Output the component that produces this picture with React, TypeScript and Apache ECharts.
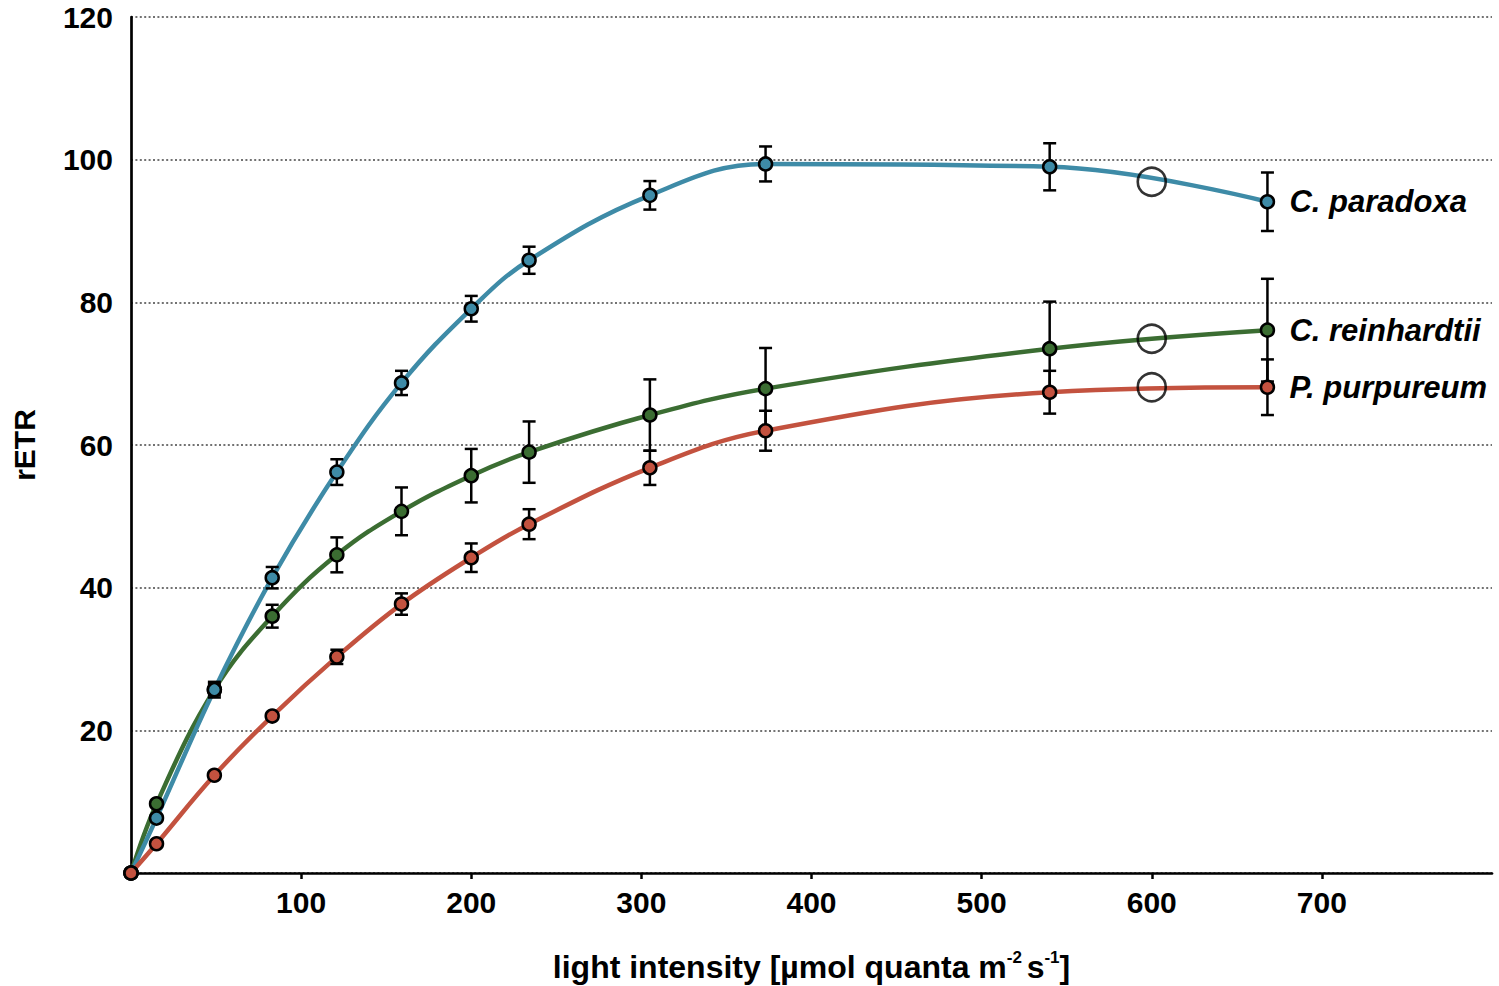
import React, { useEffect, useRef } from "react";
import * as echarts from "echarts";

// light intensity [µmol quanta m-2 s-1]
const lightIntensity = [0, 15, 49, 83, 121, 159, 200, 234, 305, 373, 540, 668];

const cParadoxa = [0, 7.7, 25.7, 41.4, 56.2, 68.7, 79.1, 85.9, 95.0, 99.4, 99.0, 94.1];
const cParadoxaErr = [0, 0.3, 1.1, 1.5, 1.8, 1.7, 1.8, 1.9, 2.0, 2.45, 3.3, 4.1];

const cReinhardtii = [0, 9.7, 25.7, 36.0, 44.6, 50.7, 55.7, 59.0, 64.2, 67.9, 73.5, 76.1];
const cReinhardtiiErr = [0, 0.3, 0.8, 1.6, 2.45, 3.35, 3.75, 4.3, 5.0, 5.7, 6.6, 7.2];

const pPurpureum = [0, 4.1, 13.7, 22.0, 30.3, 37.7, 44.2, 48.9, 56.8, 62.0, 67.4, 68.1];
const pPurpureumErr = [0, 0, 0, 0, 1.0, 1.5, 2.0, 2.1, 2.4, 2.8, 3.0, 3.9];

// open circles (reference points) at 600 µmol quanta m-2 s-1
const markerX = 600;
const markerValues = [96.9, 74.9, 68.1];

const xTicks = [100, 200, 300, 400, 500, 600, 700];

const seriesNames = ["C. paradoxa", "C. reinhardtii", "P. purpureum"];
const seriesColors = ["#3E8BA7", "#3B6D32", "#C3523F"];

const FONT = "'Liberation Sans', Arial, Helvetica, sans-serif";

export default function App() {
  const ref = useRef<HTMLDivElement>(null);

  useEffect(() => {
    if (!ref.current) return;
    const chart = echarts.init(ref.current, undefined, { renderer: "svg" });

    const values = [cParadoxa, cReinhardtii, pPurpureum];
    const errors = [cParadoxaErr, cReinhardtiiErr, pPurpureumErr];
    const order = [1, 0, 2]; // draw order: green, blue, red

    const lineSeries: any[] = [];
    const errSeries: any[] = [];
    const markSeries: any[] = [];

    order.forEach((i) => {
      const data = lightIntensity.map((x, k) => [x, values[i][k]]);
      lineSeries.push({
        type: "line",
        name: seriesNames[i],
        data,
        smooth: 0.4,
        showSymbol: false,
        symbol: "none",
        z: 2,
        lineStyle: { color: seriesColors[i], width: 4.5 },
        endLabel: {
          show: true,
          formatter: seriesNames[i],
          color: "#000",
          fontFamily: FONT,
          fontSize: 31,
          fontWeight: "bold",
          fontStyle: "italic",
          distance: 22,
        },
        silent: true,
      });
      errSeries.push({
        type: "custom",
        name: seriesNames[i] + " error",
        z: 3,
        data: lightIntensity
          .map((x, k) => [x, values[i][k], errors[i][k]])
          .filter((d) => d[2] > 0),
        renderItem: (params: any, api: any) => {
          const x = api.value(0);
          const y = api.value(1);
          const e = api.value(2);
          const top = api.coord([x, y + e]);
          const bot = api.coord([x, y - e]);
          const hw = 6.5;
          const style = { stroke: "#000", lineWidth: 2.5 };
          return {
            type: "group",
            children: [
              { type: "line", shape: { x1: top[0], y1: top[1], x2: bot[0], y2: bot[1] }, style },
              { type: "line", shape: { x1: top[0] - hw, y1: top[1], x2: top[0] + hw, y2: top[1] }, style },
              { type: "line", shape: { x1: bot[0] - hw, y1: bot[1], x2: bot[0] + hw, y2: bot[1] }, style },
            ],
          };
        },
        silent: true,
      });
      markSeries.push({
        type: "scatter",
        name: seriesNames[i] + " points",
        data,
        symbol: "circle",
        symbolSize: 13,
        z: 4,
        itemStyle: { color: seriesColors[i], borderColor: "#000", borderWidth: 2.5, opacity: 1 },
        silent: true,
      });
    });

    const circleSeries = {
      type: "scatter",
      name: "reference circles",
      data: markerValues.map((v) => [markerX, v]),
      symbol: "circle",
      symbolSize: 28,
      z: 5,
      itemStyle: { color: "rgba(0,0,0,0)", borderColor: "#000", borderWidth: 2.6 },
      silent: true,
    };

    chart.setOption({
      animation: false,
      textStyle: { fontFamily: FONT },
      grid: {
        left: 131,
        right: 7,
        top: 17,
        bottom: 113,
        containLabel: false,
        outerBoundsMode: "none",
      },
      xAxis: {
        type: "value",
        min: 0,
        max: 800,
        interval: 100,
        name: "light intensity [µmol quanta m{sup|-2 }s{sup|-1}]",
        nameLocation: "middle",
        nameGap: 76,
        nameTextStyle: {
          fontFamily: FONT,
          fontSize: 32,
          fontWeight: "bold",
          color: "#000",
          lineHeight: 36,
          rich: {
            sup: {
              fontFamily: FONT,
              fontSize: 17,
              fontWeight: "bold",
              color: "#000",
              verticalAlign: "top",
              lineHeight: 24,
            },
          },
        },
        axisLine: { show: true, onZero: false, lineStyle: { color: "#000", width: 2.7 } },
        axisTick: {
          show: true,
          length: 6,
          lineStyle: { color: "#000", width: 2.5 },
          customValues: xTicks,
        },
        axisLabel: {
          customValues: xTicks,
          color: "#000",
          fontFamily: FONT,
          fontSize: 30,
          fontWeight: "bold",
          margin: 14,
        },
        splitLine: { show: false },
      },
      yAxis: {
        type: "value",
        min: 0,
        max: 120,
        interval: 20,
        name: "rETR",
        nameLocation: "middle",
        nameRotate: 90,
        nameGap: 92,
        nameTextStyle: { fontFamily: FONT, fontSize: 30, fontWeight: "bold", color: "#000" },
        axisLine: { show: true, lineStyle: { color: "#000", width: 2.7 } },
        axisTick: { show: false },
        axisLabel: {
          color: "#000",
          fontFamily: FONT,
          fontSize: 30,
          fontWeight: "bold",
          margin: 18,
          formatter: (v: number) => (v === 0 ? "" : String(v)),
        },
        splitLine: {
          show: true,
          lineStyle: { color: "#444", width: 1.6, type: [2, 2.4] },
        },
      },
      series: [...lineSeries, ...errSeries, ...markSeries, circleSeries],
    });

    return () => chart.dispose();
  }, []);

  return <div ref={ref} style={{ width: 1499, height: 986, position: "absolute", left: 0, top: 0, background: "#fff" }} />;
}
